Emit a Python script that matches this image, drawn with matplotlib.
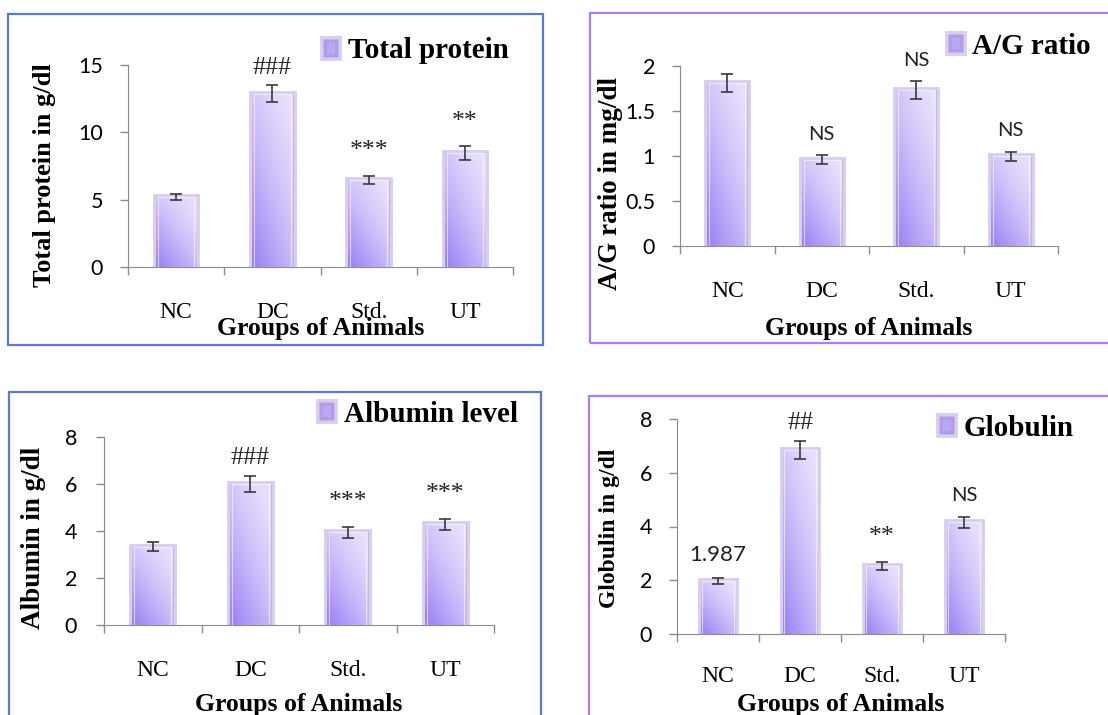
import matplotlib
matplotlib.use("Agg")
import matplotlib.pyplot as plt
import numpy as np
from matplotlib.patches import Rectangle

# data
groups = ["NC", "DC", "Std.", "UT"]

total_protein = [5.2, 12.85, 6.45, 8.45]
tp_err = [0.25, 0.63, 0.3, 0.5]
tp_sig = ["", "###", "***", "**"]

ag_ratio = [1.81, 0.96, 1.73, 1.0]
ag_err = [0.1, 0.05, 0.1, 0.05]
ag_sig = ["", "NS", "NS", "NS"]

albumin = [3.34, 6.0, 3.94, 4.28]
alb_err = [0.18, 0.33, 0.23, 0.25]
alb_sig = ["", "###", "***", "***"]

globulin = [1.987, 6.84, 2.53, 4.15]
glob_err = [0.11, 0.33, 0.15, 0.22]
glob_sig = ["1.987", "##", "**", "NS"]

W, H = 1108, 715
SERIF = "Liberation Serif"
SANS = "Lato"

fig = plt.figure(figsize=(W / 100, H / 100), dpi=100)
fig.patch.set_facecolor("white")


def px_axes(l, t, r, b):
    return fig.add_axes([l / W, 1 - b / H, (r - l) / W, (b - t) / H])


def frame(l, t, r, b, color):
    fig.add_artist(Rectangle((l / W, 1 - b / H), (r - l) / W, (b - t) / H,
                             transform=fig.transFigure, fill=False,
                             edgecolor=color, linewidth=1.6, zorder=0))


# gradient used to fill each bar (dark lower-left -> light upper-right)
dark = np.array([0.62, 0.52, 0.96])
light = np.array([0.91, 0.88, 0.99])
u = np.linspace(0, 1, 30)[None, :]
v = np.linspace(0, 1, 80)[:, None]
wgt = np.clip(0.6 * (1 - v) + 0.45 * (1 - u), 0, 1) ** 1.5
grad = light[None, None, :] * (1 - wgt[..., None]) + dark[None, None, :] * wgt[..., None]


def panel(ax, vals, errs, sigs, ymax, step, legend_name, ytick_pad, xtick_pad,
          leg_xy):
    x = np.arange(len(groups))
    bars = ax.bar(x, vals, width=0.42, color="#b9a8f3",
                  edgecolor=(0.66, 0.55, 0.86, 0.42), linewidth=5,
                  label=legend_name, zorder=2)
    for b in bars:
        bx, bw, bh = b.get_x(), b.get_width(), b.get_height()
        im = ax.imshow(grad, extent=[bx, bx + bw, 0, bh], origin="lower",
                       aspect="auto", zorder=3, interpolation="bilinear")
        im.set_clip_path(b)
    ax.bar(x, vals, width=0.38, color="none", edgecolor=(1, 1, 1, 0.6),
           linewidth=0.8, zorder=4)
    ax.errorbar(x, vals, yerr=errs, fmt="none", ecolor="#3a3a3a",
                elinewidth=1.2, capsize=4.5, capthick=1.2, zorder=5)

    for i, s in enumerate(sigs):
        if not s:
            continue
        top = vals[i] + errs[i]
        if s[0] == "#":
            ax.annotate(s, (x[i], top), xytext=(0, 5), textcoords="offset points",
                        ha="center", va="bottom", family=SERIF, fontsize=18.5,
                        color="#222222", zorder=6)
        elif s[0] == "*":
            ax.annotate(s, (x[i], top), xytext=(0, 10), textcoords="offset points",
                        ha="center", va="bottom", family=SERIF, fontsize=18.5,
                        color="#222222", zorder=6)
        else:
            ax.annotate(s, (x[i], top), xytext=(0, 9), textcoords="offset points",
                        ha="center", va="bottom", family=SANS,
                        fontsize=16 if s[0].isdigit() else 14.5,
                        color="#222222", zorder=6)

    ax.set_xlim(-0.5, len(groups) - 0.5)
    ax.set_ylim(0, ymax)
    ax.set_yticks(np.arange(0, ymax + step / 2, step))
    ax.set_yticklabels(["%g" % t for t in np.arange(0, ymax + step / 2, step)],
                       family=SANS, fontsize=15.5)
    ax.set_xticks(x)
    ax.set_xticklabels(groups, family=SERIF, fontsize=17)
    ax.set_xticks(np.arange(-0.5, len(groups)), minor=True)
    ax.tick_params(axis="x", which="major", length=0, pad=xtick_pad)
    ax.tick_params(axis="x", which="minor", length=6, color="#8c8c8c", width=1)
    ax.tick_params(axis="y", length=6, color="#8c8c8c", width=1, pad=ytick_pad)
    for side in ("top", "right"):
        ax.spines[side].set_visible(False)
    for side in ("left", "bottom"):
        ax.spines[side].set_color("#8c8c8c")
    ax.patch.set_alpha(0)

    ax.legend(handles=[bars], labels=[legend_name], loc="center left",
              bbox_to_anchor=(leg_xy[0] / W, 1 - leg_xy[1] / H),
              bbox_transform=fig.transFigure, frameon=False, borderpad=0,
              borderaxespad=0, handlelength=0.52, handleheight=0.55,
              handletextpad=0.32,
              prop={"family": SERIF, "weight": "bold", "size": 21})


# frames
frame(8, 14, 543, 345, "#5b79d8")
frame(590, 13, 1120, 343, "#a97ff0")
frame(9, 392, 541, 730, "#5b79d8")
frame(589, 396, 1120, 730, "#a97ff0")

ax1 = px_axes(128, 65, 513, 267)
panel(ax1, total_protein, tp_err, tp_sig, 15, 5, "Total protein", 12, 25,
      (323, 51))
ax2 = px_axes(680, 66, 1058, 246)
panel(ax2, ag_ratio, ag_err, ag_sig, 2, 0.5, "A/G ratio", 12, 25,
      (948, 46))
ax3 = px_axes(104, 437, 494, 625)
panel(ax3, albumin, alb_err, alb_sig, 8, 2, "Albumin level", 13.5, 25,
      (319, 414))
ax4 = px_axes(677, 419, 1005, 634)
panel(ax4, globulin, glob_err, glob_sig, 8, 2, "Globulin", 12, 23,
      (939, 428))

# axis titles
xlab = dict(family=SERIF, weight="bold", fontsize=18.5, ha="center", va="center")
fig.text(321 / W, 1 - 328 / H, "Groups of Animals", **xlab)
fig.text(869 / W, 1 - 328 / H, "Groups of Animals", **xlab)
fig.text(299 / W, 1 - 704 / H, "Groups of Animals", **xlab)
fig.text(841 / W, 1 - 705 / H, "Groups of Animals", **xlab)

ylab = dict(family=SERIF, weight="bold", rotation=90, ha="center", va="center")
fig.text(45 / W, 1 - 175 / H, "Total protein in g/dl", fontsize=19, **ylab)
fig.text(610 / W, 1 - 184 / H, "A/G ratio in mg/dl", fontsize=19.5, **ylab)
fig.text(34 / W, 1 - 538 / H, "Albumin in g/dl", fontsize=19.5, **ylab)
fig.text(609 / W, 1 - 528 / H, "Globulin in g/dl", fontsize=17, **ylab)

fig.savefig("out.png", dpi=100)
